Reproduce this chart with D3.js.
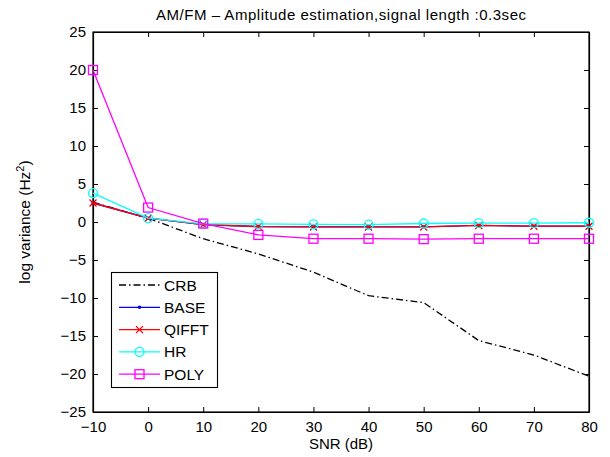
<!DOCTYPE html>
<html><head><meta charset="utf-8">
<script src="https://cdn.jsdelivr.net/npm/d3@7"></script>
<style>body{margin:0;background:#fff}svg{display:block;font-family:"Liberation Sans",Arial,sans-serif}</style>
</head><body><svg id="c" width="610" height="457"></svg>
<script>
const snr = [-10, 0, 10, 20, 30, 40, 50, 60, 70, 80];
const crb = [2.6, 0.5, -2.2, -4.2, -6.6, -9.7, -10.6, -15.6, -17.5, -20.3];
const base = [2.5, 0.5, -0.35, -0.6, -0.65, -0.65, -0.65, -0.45, -0.55, -0.55];
const qifft = [2.5, 0.5, -0.35, -0.6, -0.65, -0.65, -0.65, -0.45, -0.55, -0.55];
const hr = [3.8, 0.5, -0.25, -0.25, -0.3, -0.35, -0.2, -0.15, -0.15, -0.1];
const poly = [20, 1.9, -0.2, -1.7, -2.2, -2.2, -2.25, -2.2, -2.2, -2.2];
const xTicks = [-10, 0, 10, 20, 30, 40, 50, 60, 70, 80];
const yTicks = [-25, -20, -15, -10, -5, 0, 5, 10, 15, 20, 25];
const seriesNames = ["CRB", "BASE", "QIFFT", "HR", "POLY"];
const seriesColors = ["#000000", "#0000ff", "#ff0000", "#00ffff", "#ff00ff"];

const L = 93, R = 589, T = 32, B = 412;
const svg = d3.select("#c");
const x = d3.scaleLinear().domain([-10, 80]).range([L, R]);
const y = d3.scaleLinear().domain([-25, 25]).range([B, T]);

const fs = "15px";
const ax = svg.append("g").attr("transform", `translate(0,${B})`)
  .call(d3.axisBottom(x).tickValues(xTicks).tickSizeInner(-5).tickSizeOuter(0).tickPadding(9));
const axt = svg.append("g").attr("transform", `translate(0,${T})`)
  .call(d3.axisTop(x).tickValues(xTicks).tickSizeInner(-5).tickSizeOuter(0).tickFormat(""));
const ay = svg.append("g").attr("transform", `translate(${L},0)`)
  .call(d3.axisLeft(y).tickValues(yTicks).tickSizeInner(-5).tickSizeOuter(0).tickPadding(7));
const ayr = svg.append("g").attr("transform", `translate(${R},0)`)
  .call(d3.axisRight(y).tickValues(yTicks).tickSizeInner(-5).tickSizeOuter(0).tickFormat(""));
[ax, axt, ay, ayr].forEach(g => {
  g.selectAll("text").attr("font-size", fs).attr("fill", "#000").attr("font-family", "Liberation Sans, Arial, sans-serif");
  g.selectAll("line").attr("stroke", "#000");
  g.select(".domain").attr("stroke", "#000").attr("stroke-width", 1.2);
});
ax.selectAll("text").text(d => d < 0 ? "\u2212" + Math.abs(d) : d);
ay.selectAll("text").text(d => d < 0 ? "\u2212" + Math.abs(d) : d);
svg.append("rect").attr("x", L).attr("y", T).attr("width", R - L).attr("height", B - T)
  .attr("fill", "none").attr("stroke", "#000").attr("stroke-width", 1.2);

const line = d3.line().x((d, i) => x(snr[i])).y(d => y(d));
const data = [crb, base, qifft, hr, poly];

function marker(g, type, cx, cy, color) {
  if (type === 1) g.append("circle").attr("cx", cx).attr("cy", cy).attr("r", 1.8).attr("fill", color);
  else if (type === 2) {
    g.append("path").attr("d", `M${cx-3.5},${cy-3.5}L${cx+3.5},${cy+3.5}M${cx-3.5},${cy+3.5}L${cx+3.5},${cy-3.5}`)
      .attr("stroke", color).attr("stroke-width", 1.3);
  } else if (type === 3) g.append("circle").attr("cx", cx).attr("cy", cy).attr("r", 4.5).attr("fill", "none").attr("stroke", color).attr("stroke-width", 1.3);
  else if (type === 4) g.append("rect").attr("x", cx - 4.5).attr("y", cy - 4.5).attr("width", 9).attr("height", 9).attr("fill", "none").attr("stroke", color).attr("stroke-width", 1.3);
}

data.forEach((s, k) => {
  const p = svg.append("path").attr("d", line(s)).attr("fill", "none")
    .attr("stroke", seriesColors[k]).attr("stroke-width", 1.3);
  if (k === 0) p.attr("stroke-dasharray", "7,3,1.5,3");
  const g = svg.append("g");
  if (k > 0) s.forEach((v, i) => marker(g, k, x(snr[i]), y(v), seriesColors[k]));
});

const lg = svg.append("g");
lg.append("rect").attr("x", 111.5).attr("y", 272.5).attr("width", 106).attr("height", 115)
  .attr("fill", "#fff").attr("stroke", "#000").attr("stroke-width", 1.1);
seriesNames.forEach((n, k) => {
  const yy = 285 + k * 22.3;
  const l = lg.append("line").attr("x1", 119).attr("x2", 160).attr("y1", yy).attr("y2", yy)
    .attr("stroke", seriesColors[k]).attr("stroke-width", 1.3);
  if (k === 0) l.attr("stroke-dasharray", "7,3,1.5,3");
  if (k > 0) marker(lg, k, 139.5, yy, seriesColors[k]);
  lg.append("text").attr("x", 164).attr("y", yy + 5.5).attr("font-size", "15.5px").text(n);
});

svg.append("text").attr("x", (L + R) / 2).attr("y", 19.5).attr("text-anchor", "middle")
  .attr("font-size", "15px").attr("textLength", 370).attr("lengthAdjust", "spacing")
  .text("AM/FM \u2013 Amplitude estimation,signal length :0.3sec");
svg.append("text").attr("x", (L + R) / 2).attr("y", 449).attr("text-anchor", "middle")
  .attr("font-size", "15px").text("SNR (dB)");
const yl = svg.append("text").attr("transform", `translate(30,${(T + B) / 2}) rotate(-90)`)
  .attr("text-anchor", "middle").attr("font-size", "15.5px");
yl.append("tspan").text("log variance (Hz");
yl.append("tspan").attr("dy", -6).attr("font-size", "11px").text("2");
yl.append("tspan").attr("dy", 6).text(")");
</script></body></html>
